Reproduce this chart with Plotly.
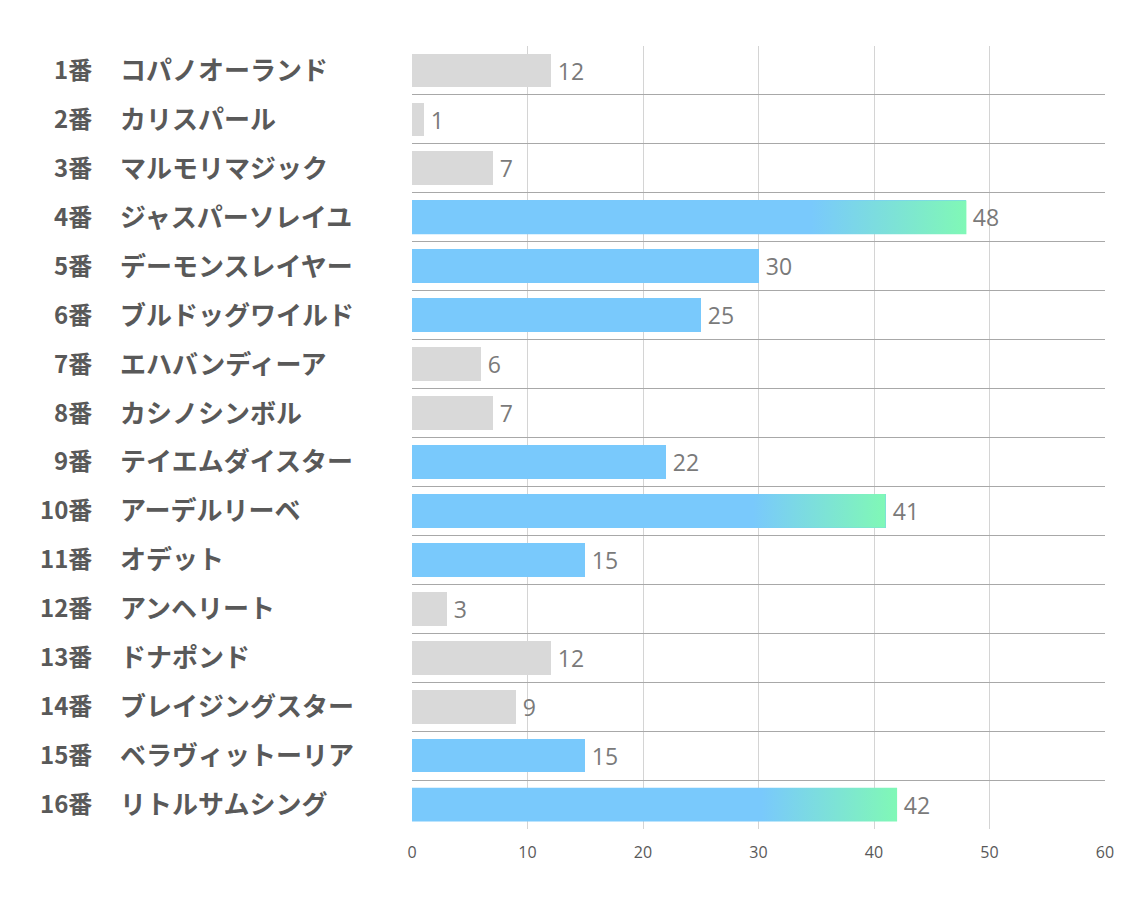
import plotly.graph_objects as go

numbers = [f"{i}番" for i in range(1, 17)]
names = ["コパノオーランド", "カリスパール", "マルモリマジック", "ジャスパーソレイユ",
         "デーモンスレイヤー", "ブルドッグワイルド", "エハバンディーア", "カシノシンボル",
         "テイエムダイスター", "アーデルリーベ", "オデット", "アンヘリート",
         "ドナポンド", "ブレイジングスター", "ベラヴィットーリア", "リトルサムシング"]
values = [12, 1, 7, 48, 30, 25, 6, 7, 22, 41, 15, 3, 12, 9, 15, 42]
highlight = [False, False, False, True, True, True, False, False, True, True, True, False, False, False, True, True]
gradient = [False, False, False, True, False, False, False, False, False, True, False, False, False, False, False, True]
x_ticks = [0, 10, 20, 30, 40, 50, 60]

GRAY = "#d9d9d9"
BLUE = "#79c9fc"
GREEN = "#80f8b6"
BAR_W = 0.69

idx = list(range(len(values)))
colors = [BLUE if h else GRAY for h in highlight]

fig = go.Figure()
fig.add_trace(go.Bar(
    x=values, y=idx, orientation="h", width=BAR_W,
    marker=dict(color=colors, line=dict(width=0)),
    text=[f"\u2009{v}" for v in values], textposition="outside",
    textfont=dict(size=23, color="#7a7a7a", family="Open Sans, Noto Sans, sans-serif"),
    cliponaxis=False, hoverinfo="skip", showlegend=False,
))

for i, v, g in zip(idx, values, gradient):
    if not g:
        continue
    y0, y1 = i - BAR_W / 2, i + BAR_W / 2
    fig.add_trace(go.Scatter(
        x=[0, v, v, 0, 0], y=[y0, y0, y1, y1, y0], mode="lines",
        line=dict(width=0), fill="toself",
        fillgradient=dict(type="horizontal",
                          colorscale=[[0, BLUE], [0.72, BLUE], [1, GREEN]]),
        hoverinfo="skip", showlegend=False,
    ))

num_font = dict(family="Noto Sans CJK JP, sans-serif", size=24, color="#595959")
name_font = dict(family="Noto Sans CJK JP, sans-serif", size=26, color="#595959")
for i, num, name in zip(idx, numbers, names):
    fig.add_annotation(x=-0.459, y=i, xref="paper", yref="y", text=f"<b>{num}</b>",
                       showarrow=False, xanchor="right", yanchor="middle", font=num_font,
                       yshift=2)
    fig.add_annotation(x=-0.424, y=i, xref="paper", yref="y", text=f"<b>{name}</b>",
                       showarrow=False, xanchor="left", yanchor="middle", font=name_font,
                       yshift=2)

boundaries = [i - 0.5 for i in range(len(values) + 1)]

fig.update_layout(
    width=1134, height=907,
    margin=dict(l=412, r=29, t=46, b=78),
    paper_bgcolor="white", plot_bgcolor="white",
    bargap=0,
    xaxis=dict(range=[0, 60], tickvals=x_ticks, showgrid=True, gridcolor="#d4d4d4",
               gridwidth=1, zeroline=False, showline=False,
               tickfont=dict(size=16, color="#595959", family="Open Sans, sans-serif"),
               ticks="", ticklabelstandoff=12, fixedrange=True),
    yaxis=dict(range=[len(values) - 0.5, -0.5], tickvals=boundaries, showticklabels=False,
               showgrid=True, gridcolor="#a8a8a8", gridwidth=1, zeroline=False,
               showline=False, ticks="", fixedrange=True),
)

fig.write_html("out.html")
